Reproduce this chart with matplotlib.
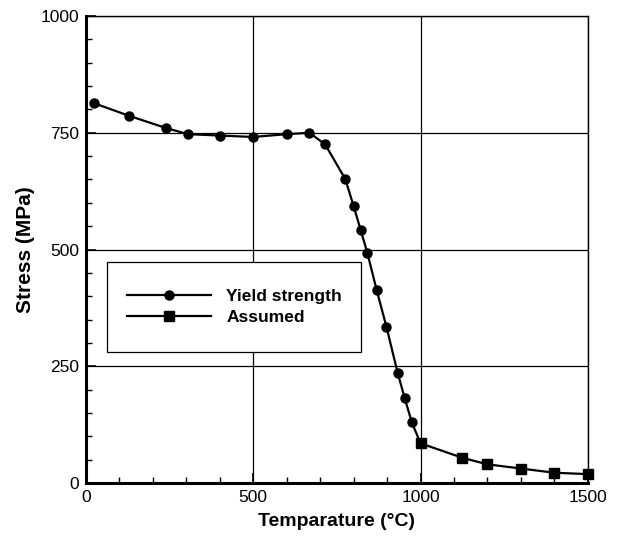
import matplotlib
matplotlib.use("Agg")
import matplotlib.pyplot as plt
from matplotlib.patches import Rectangle
from matplotlib.ticker import MultipleLocator

plt.rcParams["font.family"] = ["Liberation Sans", "DejaVu Sans"]

# yield strength curve (circles)
yield_temp = [25, 130, 240, 305, 400, 500, 600, 668, 715, 775, 800, 821, 841,
              869, 898, 932, 953, 974, 1000]
yield_stress = [813, 786, 760, 747, 744, 741, 747, 750, 725, 651, 593, 542, 493,
                413, 335, 235, 181, 130, 85]

# assumed values above 1000 C (squares)
assumed_temp = [1000, 1125, 1200, 1300, 1400, 1500]
assumed_stress = [85, 54, 40, 31, 22, 19]

x_ticks = [0, 500, 1000, 1500]
y_ticks = [0, 250, 500, 750, 1000]

fig = plt.figure(figsize=(6.2, 5.41), dpi=100)
ax = fig.add_axes([0.1387, 0.1072, 0.8093, 0.8632])

ax.plot(yield_temp, yield_stress, "-o", color="black", lw=1.6, ms=6.5,
        label="Yield strength", zorder=3, clip_on=False)
ax.plot(assumed_temp, assumed_stress, "-s", color="black", lw=1.6, ms=6.5,
        label="Assumed", zorder=3, clip_on=False)

ax.set_xlim(0, 1500)
ax.set_ylim(0, 1000)
ax.set_xticks(x_ticks)
ax.set_yticks(y_ticks)
ax.xaxis.set_minor_locator(MultipleLocator(100))
ax.yaxis.set_minor_locator(MultipleLocator(50))
ax.tick_params(which="both", direction="in", top=False, right=False,
               labelsize=12.5, colors="black")
ax.tick_params(which="major", length=7, width=1.2, pad=5)
ax.tick_params(which="minor", length=4, width=1.0)
ax.grid(True, which="major", color="black", lw=0.9)

for side in ("left", "bottom"):
    ax.spines[side].set_linewidth(2.2)
for side in ("top", "right"):
    ax.spines[side].set_linewidth(1.0)

ax.set_xlabel("Temparature (°C)", fontsize=14, fontweight="bold", labelpad=6)
ax.set_ylabel("Stress (MPa)", fontsize=15, fontweight="bold", labelpad=4)

# legend frame drawn as a plain rectangle, white inside
ax.add_patch(Rectangle((0.042, 0.2805), 0.506, 0.1925, transform=ax.transAxes,
                       facecolor="white", edgecolor="black", lw=0.9, zorder=4))
leg = ax.legend(loc="center left", bbox_to_anchor=(0.065, 0.377), frameon=False,
                handlelength=4.8, handletextpad=0.9, labelspacing=0.3,
                prop={"weight": "bold", "size": 12.5}, borderpad=0)
leg.set_zorder(5)

fig.savefig("out.png", dpi=100, facecolor="white")
